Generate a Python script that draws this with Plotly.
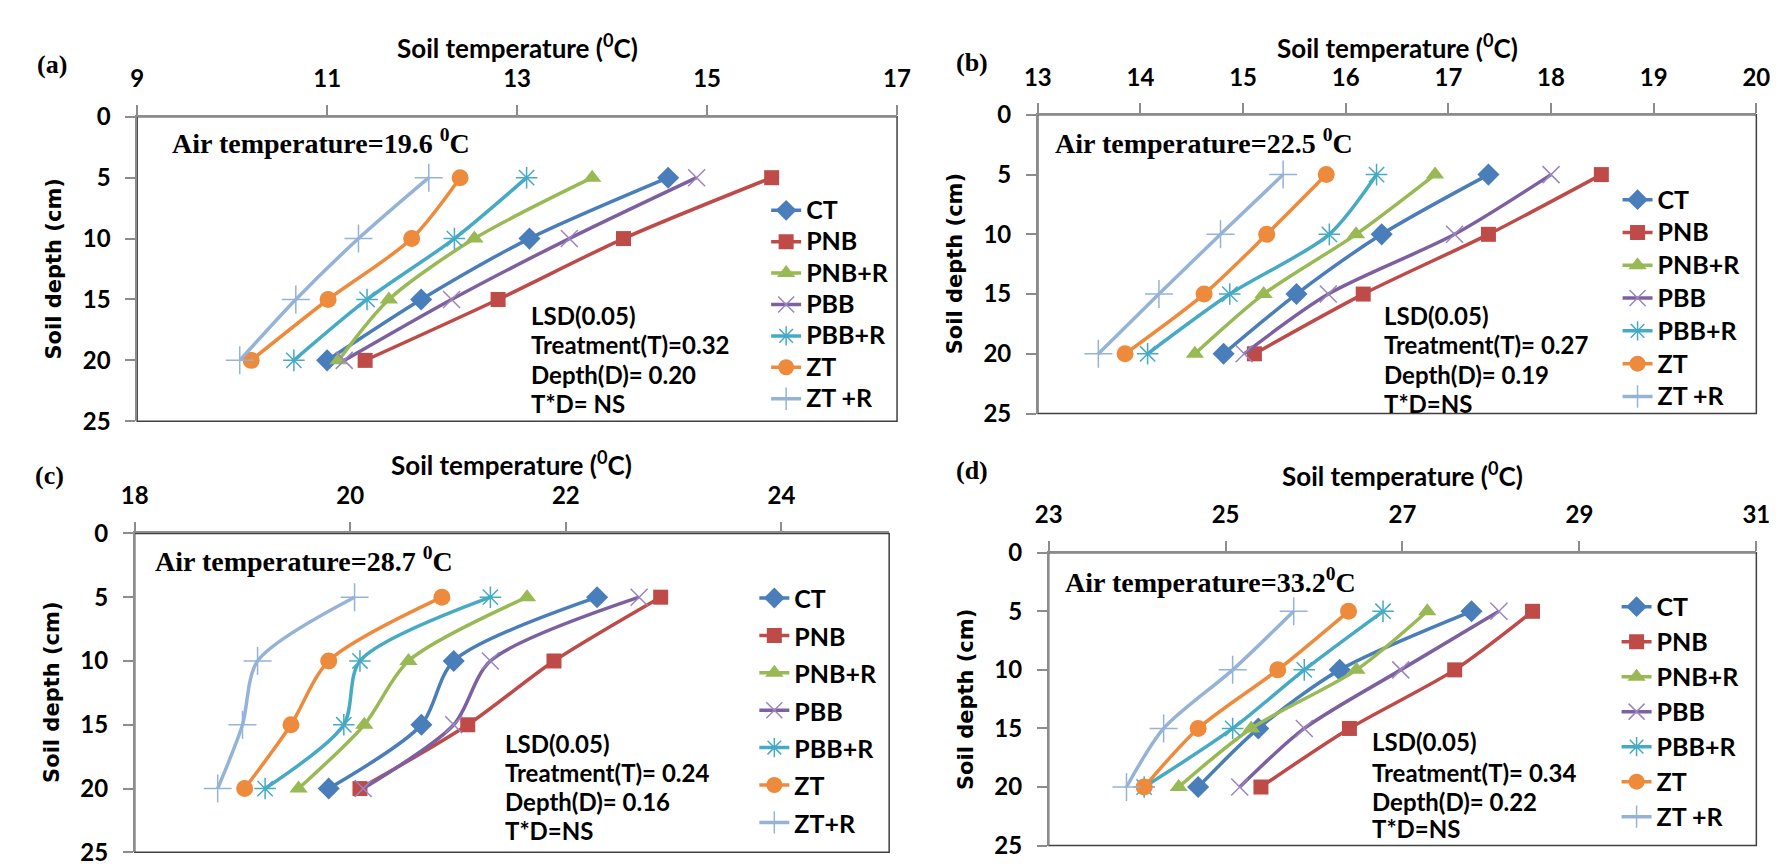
import plotly.graph_objects as go

# ---------------- data ----------------
depth = [5, 10, 15, 20]
treatments = ["CT", "PNB", "PNB+R", "PBB", "PBB+R", "ZT", "ZT +R"]
treatments_c = ["CT", "PNB", "PNB+R", "PBB", "PBB+R", "ZT", "ZT+R"]

# panel (a) soil temperature (deg C) at 5, 10, 15, 20 cm
a_CT = [14.59, 13.13, 11.99, 11.00]
a_PNB = [15.68, 14.12, 12.80, 11.40]
a_PNBR = [13.79, 12.55, 11.65, 11.12]
a_PBB = [14.89, 13.55, 12.31, 11.18]
a_PBBR = [13.10, 12.34, 11.42, 10.65]
a_ZT = [12.40, 11.89, 11.01, 10.20]
a_ZTR = [12.07, 11.33, 10.67, 10.08]

# panel (b)
b_CT = [17.39, 16.35, 15.52, 14.81]
b_PNB = [18.49, 17.39, 16.17, 15.11]
b_PNBR = [16.87, 16.10, 15.20, 14.53]
b_PBB = [18.00, 17.06, 15.83, 15.01]
b_PBBR = [16.30, 15.84, 14.87, 14.07]
b_ZT = [15.81, 15.23, 14.62, 13.85]
b_ZTR = [15.39, 14.78, 14.18, 13.59]

# panel (c)
c_CT = [22.29, 20.96, 20.66, 19.80]
c_PNB = [22.88, 21.89, 21.09, 20.09]
c_PNBR = [21.64, 20.54, 20.13, 19.52]
c_PBB = [22.68, 21.30, 20.96, 20.12]
c_PBBR = [21.30, 20.09, 19.94, 19.21]
c_ZT = [20.85, 19.80, 19.45, 19.02]
c_ZTR = [20.04, 19.14, 19.00, 18.77]

# panel (d)
d_CT = [27.78, 26.29, 25.37, 24.69]
d_PNB = [28.47, 27.59, 26.40, 25.40]
d_PNBR = [27.28, 26.48, 25.29, 24.47]
d_PBB = [28.09, 26.98, 25.89, 25.16]
d_PBBR = [26.78, 25.89, 25.08, 24.08]
d_ZT = [26.39, 25.59, 24.69, 24.08]
d_ZTR = [25.77, 25.08, 24.30, 23.88]

panel_labels = ["(a)", "(b)", "(c)", "(d)"]
air_temps = ["Air temperature=19.6 <sup>0</sup>C", "Air temperature=22.5 <sup>0</sup>C",
             "Air temperature=28.7 <sup>0</sup>C", "Air temperature=33.2<sup>0</sup>C"]
lsd_texts = [
    ["LSD(0.05)", "Treatment(T)=0.32", "Depth(D)= 0.20", "T*D= NS"],
    ["LSD(0.05)", "Treatment(T)= 0.27", "Depth(D)= 0.19", "T*D=NS"],
    ["LSD(0.05)", "Treatment(T)= 0.24", "Depth(D)= 0.16", "T*D=NS"],
    ["LSD(0.05)", "Treatment(T)= 0.34", "Depth(D)= 0.22", "T*D=NS"],
]
x_ranges = [[9, 17], [13, 20], [18, 25], [23, 31]]
x_dticks = [2, 1, 2, 2]

panels = [
    [a_CT, a_PNB, a_PNBR, a_PBB, a_PBBR, a_ZT, a_ZTR],
    [b_CT, b_PNB, b_PNBR, b_PBB, b_PBBR, b_ZT, b_ZTR],
    [c_CT, c_PNB, c_PNBR, c_PBB, c_PBBR, c_ZT, c_ZTR],
    [d_CT, d_PNB, d_PNBR, d_PBB, d_PBBR, d_ZT, d_ZTR],
]
names_per_panel = [treatments, treatments, treatments_c, treatments]

# ---------------- styles ----------------
W, H = 1784, 868
colors = ["#4A7EBB", "#BE4B48", "#98B954", "#7D60A0", "#46AAC5", "#EE8A3C", "#95B3D7"]
symbols = ["diamond", "square", "triangle-up", "x-thin-open", "asterisk-open", "circle", "cross-thin-open"]
sizes = [17, 15, 16, 17, 18, 17, 20]
mk_line = [0, 0, 0, 1.5, 1.5, 0, 1.5]
marker_colors = ["#4A7EBB", "#BE4B48", "#98B954", "#9A85BE", "#46AAC5", "#EE8A3C", "#95B3D7"]

# plot area boxes in pixels: left, right, top, bottom
boxes = [(117, 889, 96, 411), (1032, 1762, 94, 403), (114.5, 881, 527, 857), (1043, 1762, 547, 850)]
# legend: text left x, first entry centre y, entry spacing parameter
legend_spec = [(792, 192, 31.4), (1657, 181, 32.8), (780, 593, 37.4), (1656, 602, 35.0)]
LEG_ITEMW = 30
xtitle_y = [23, 23, 455, 466]
air_pos = [(150, 122), (1047, 122), (133, 554), (1058, 576)]
lsd_pos = [(515, [302, 332, 363, 393]), (1382, [302, 332, 363, 393]),
           (489, [744, 774, 804, 834]), (1369, [742, 774, 804, 832])]
plabel_pos = [(30, 42), (965, 40), (28, 467), (965, 462)]

BODY = "Lato"
fig = go.Figure()
annotations = []
shapes = []
layout = dict(width=W, height=H, margin=dict(l=0, r=0, t=0, b=0),
              paper_bgcolor="white", plot_bgcolor="white", showlegend=True)


def px(x):
    return x / W


def py(y):
    return 1 - y / H


for p in range(4):
    i = p + 1
    sx = "" if i == 1 else str(i)
    xa, ya = "x" + sx, "y" + sx
    lg = "legend" + sx
    L, R, T, B = boxes[p]
    for k, vals in enumerate(panels[p]):
        fig.add_trace(go.Scatter(
            x=vals, y=depth, mode="lines+markers",
            name=f'<span style="font-size:25px">{names_per_panel[p][k]}</span>',
            xaxis=xa, yaxis=ya, legend=lg,
            line=dict(color=colors[k], width=3.5, shape="spline", smoothing=0.8),
            marker=dict(symbol=symbols[k], size=sizes[k], color=marker_colors[k],
                        line=dict(width=mk_line[k], color=marker_colors[k])),
            cliponaxis=False,
        ))
    layout["xaxis" + sx] = dict(
        domain=[px(L), px(R)], anchor=ya, side="top", range=x_ranges[p],
        dtick=x_dticks[p], tick0=x_ranges[p][0], showgrid=False, zeroline=False,
        showline=True, linecolor="#8c8c8c", linewidth=1.5,
        ticks="outside", ticklen=10, tickwidth=1.5, tickcolor="#8c8c8c",
        tickfont=dict(family=BODY, size=24, color="black", weight="bold"),
        ticklabelstandoff=8,
    )
    layout["yaxis" + sx] = dict(
        domain=[py(B), py(T)], anchor=xa, range=[25, 0], dtick=5, tick0=0,
        showgrid=False, zeroline=False,
        showline=True, linecolor="#8c8c8c", linewidth=1.5,
        ticks="outside", ticklen=10, tickwidth=1.5, tickcolor="#8c8c8c",
        tickfont=dict(family=BODY, size=24, color="black", weight="bold"),
        ticklabelstandoff=10,
    )
    tx, cy, sp = legend_spec[p]
    fsize = (sp - 3) / 1.3
    top = cy - 5 - sp / 2
    layout[lg] = dict(
        x=px(tx - LEG_ITEMW - 6), y=py(top), xanchor="left", yanchor="top",
        bgcolor="rgba(0,0,0,0)", borderwidth=0, traceorder="normal",
        itemwidth=LEG_ITEMW,
        font=dict(family=BODY, size=fsize, color="black", weight="bold"),
    )
    shapes.append(dict(type="rect", xref=xa + " domain", yref=ya + " domain",
                       x0=0, x1=1, y0=0, y1=1, layer="below",
                       line=dict(color="#404040", width=1.5)))
    # axis titles
    annotations.append(dict(text="Soil temperature (<sup>0</sup>C)", xref="paper", yref="paper",
                            x=px((L + R) / 2), y=py(xtitle_y[p]), xanchor="center", yanchor="middle",
                            showarrow=False, font=dict(family=BODY, size=26, color="black", weight="bold")))
    annotations.append(dict(text="Soil depth (cm)", xref="paper", yref="paper", textangle=-90,
                            x=px(L - 84), y=py((T + B) / 2), xanchor="center", yanchor="middle",
                            showarrow=False, font=dict(family="DejaVu Sans", size=21, color="black", weight="bold")))
    # panel label
    annotations.append(dict(text=panel_labels[p], xref="paper", yref="paper",
                            x=px(plabel_pos[p][0]), y=py(plabel_pos[p][1]), xanchor="center", yanchor="middle",
                            showarrow=False, font=dict(family="Liberation Serif", size=26, color="black", weight="bold")))
    # air temperature
    annotations.append(dict(text=air_temps[p], xref="paper", yref="paper",
                            x=px(air_pos[p][0]), y=py(air_pos[p][1]), xanchor="left", yanchor="middle",
                            showarrow=False, font=dict(family="Liberation Serif", size=28, color="black", weight="bold")))
    # LSD lines
    lx, lys = lsd_pos[p]
    for t, yy in zip(lsd_texts[p], lys):
        annotations.append(dict(text=t, xref="paper", yref="paper", x=px(lx), y=py(yy),
                                xanchor="left", yanchor="middle", showarrow=False,
                                font=dict(family=BODY, size=24, color="black", weight="bold")))

layout["annotations"] = annotations
layout["shapes"] = shapes
fig.update_layout(**layout)
fig.write_html("out.html")
